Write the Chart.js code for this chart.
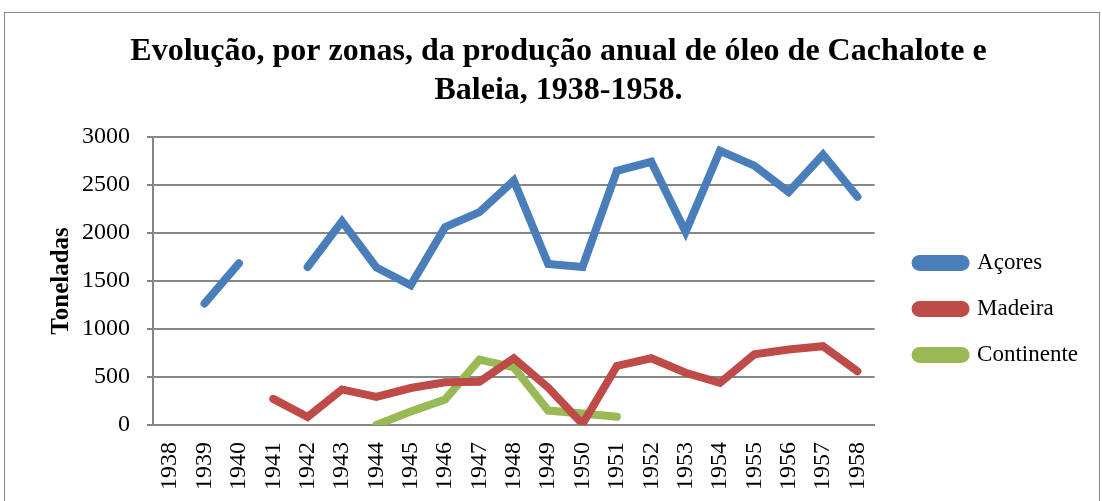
<!DOCTYPE html>
<html>
<head>
<meta charset="utf-8">
<script src="https://cdn.jsdelivr.net/npm/chart.js@4.4.0/dist/chart.umd.min.js"></script>
<style>
  html, body { margin: 0; padding: 0; background: #fff; }
  .frame { position: absolute; left: 4px; top: 12px; width: 1094px; height: 520px; border: 1px solid #888; }
  .wrap { position: absolute; left: 0; top: 0; width: 1102px; height: 501px; }
</style>
</head>
<body>
<div class="frame"></div>
<div class="wrap"><canvas id="grafico"></canvas></div>
<script>
const anos = ['1938','1939','1940','1941','1942','1943','1944','1945','1946','1947','1948',
              '1949','1950','1951','1952','1953','1954','1955','1956','1957','1958'];
const acores = [null, 1265, 1683, null, 1645, 2120, 1640, 1455, 2060, 2215, 2545,
                1675, 1645, 2645, 2740, 2010, 2855, 2700, 2425, 2815, 2375];
const madeira = [null, null, null, 272, 84, 370, 293, 385, 445, 450, 695,
                 390, 10, 615, 695, 544, 439, 735, 785, 820, 560];
const continente = [null, null, null, null, null, null, 0, 140, 265, 680, 600,
                    150, 120, 85, null, null, null, null, null, null, null];
const yTicks = [0, 500, 1000, 1500, 2000, 2500, 3000];

const serif = '"Liberation Serif", "DejaVu Serif", serif';

// empurra a legenda para a posição do original
const moverLegenda = {
    id: 'moverLegenda',
    afterLayout(chart) {
        const lg = chart.legend;
        const dx = 18, dy = 28;
        lg.left += dx; lg.right += dx;
        lg.top += dy; lg.bottom += dy;
    }
};

document.addEventListener('DOMContentLoaded', function() {
    const ctx = document.getElementById('grafico').getContext('2d');
    new Chart(ctx, {
        type: 'line',
        data: {
            labels: anos,
            datasets: [
                { label: 'Açores', data: acores, borderColor: '#4a7ebb', backgroundColor: '#4a7ebb' },
                { label: 'Madeira', data: madeira, borderColor: '#be4b48', backgroundColor: '#be4b48' },
                { label: 'Continente', data: continente, borderColor: '#98b954', backgroundColor: '#98b954' }
            ]
        },
        plugins: [moverLegenda],
        options: {
            responsive: true,
            maintainAspectRatio: false,
            animation: false,
            spanGaps: false,
            elements: {
                line: { borderWidth: 8, tension: 0, borderCapStyle: 'round', borderJoinStyle: 'miter' },
                point: { radius: 0, hoverRadius: 0 }
            },
            layout: { padding: { left: 47, right: 32, top: 33, bottom: 2 } },
            plugins: {
                title: {
                    display: true,
                    text: ['Evolução, por zonas, da produção anual de óleo de Cachalote e', 'Baleia, 1938-1958.'],
                    color: '#000',
                    font: { family: serif, size: 32, weight: 'bold', lineHeight: 1.2 },
                    padding: { top: 0, bottom: 27 }
                },
                legend: {
                    position: 'right',
                    fullSize: false,
                    labels: {
                        color: '#000',
                        font: { family: serif, size: 23 },
                        boxWidth: 50,
                        boxHeight: 8,
                        useBorderRadius: true,
                        borderRadius: 4,
                        padding: 23
                    }
                },
                tooltip: { enabled: false }
            },
            scales: {
                x: {
                    offset: true,
                    grid: { display: false },
                    border: { color: '#868686', width: 2 },
                    ticks: {
                        color: '#000',
                        font: { family: serif, size: 24 },
                        minRotation: 90,
                        maxRotation: 90,
                        autoSkip: false,
                        padding: 9
                    }
                },
                y: {
                    min: 0,
                    max: 3000,
                    afterBuildTicks: function(axis) {
                        axis.ticks = yTicks.map(v => ({ value: v }));
                    },
                    afterFit: function(axis) {
                        axis.width = 106;
                    },
                    grid: { color: '#868686', lineWidth: 2, tickLength: 6 },
                    border: { color: '#868686', width: 2 },
                    ticks: {
                        color: '#000',
                        font: { family: serif, size: 24 },
                        padding: 17,
                        callback: v => String(v)
                    },
                    title: {
                        display: true,
                        text: 'Toneladas',
                        color: '#000',
                        font: { family: serif, size: 25, weight: 'bold' },
                        padding: { top: 0, bottom: 0 }
                    }
                }
            }
        }
    });
});
</script>
</body>
</html>
